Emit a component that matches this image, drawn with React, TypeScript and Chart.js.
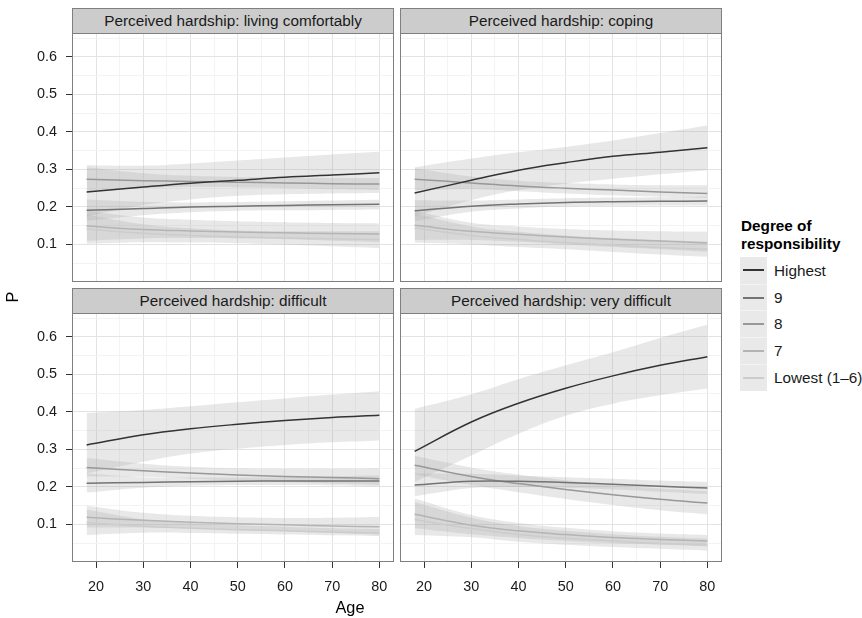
import React, { useEffect, useRef } from "react";
import { Chart, registerables } from "chart.js";

Chart.register(...registerables);

// ---------- data ----------
const AGES = [18, 30, 40, 50, 60, 70, 80];
const LEVELS = ["Highest", "9", "8", "7", "Lowest (1–6)"];
const LINE_COLORS = ["#333333", "#737373", "#989898", "#b4b4b4", "#cccccc"];
const X_TICKS = [20, 25, 30, 35, 40, 45, 50, 55, 60, 65, 70, 75, 80];
const Y_TICKS = [0.05, 0.1, 0.15, 0.2, 0.25, 0.3, 0.35, 0.4, 0.45, 0.5, 0.55, 0.6, 0.65];
const PANEL_TITLES = [
  "Perceived hardship: living comfortably",
  "Perceived hardship: coping",
  "Perceived hardship: difficult",
  "Perceived hardship: very difficult",
];

// rows follow LEVELS: Highest, 9, 8, 7, Lowest
const COMF_P = [
  [0.240, 0.253, 0.263, 0.271, 0.279, 0.285, 0.291],
  [0.191, 0.196, 0.200, 0.202, 0.204, 0.206, 0.207],
  [0.274, 0.270, 0.268, 0.266, 0.264, 0.262, 0.261],
  [0.149, 0.140, 0.136, 0.133, 0.131, 0.129, 0.128],
  [0.141, 0.130, 0.124, 0.120, 0.117, 0.115, 0.113],
];
const COMF_LO = [
  [0.175, 0.205, 0.220, 0.230, 0.234, 0.236, 0.237],
  [0.163, 0.178, 0.186, 0.190, 0.191, 0.192, 0.193],
  [0.242, 0.250, 0.253, 0.252, 0.250, 0.247, 0.245],
  [0.110, 0.116, 0.117, 0.116, 0.114, 0.110, 0.106],
  [0.102, 0.106, 0.105, 0.103, 0.099, 0.095, 0.090],
];
const COMF_HI = [
  [0.311, 0.310, 0.316, 0.324, 0.332, 0.340, 0.347],
  [0.220, 0.214, 0.212, 0.213, 0.215, 0.217, 0.219],
  [0.306, 0.290, 0.283, 0.280, 0.278, 0.277, 0.277],
  [0.190, 0.172, 0.166, 0.162, 0.159, 0.157, 0.156],
  [0.180, 0.154, 0.143, 0.137, 0.135, 0.135, 0.135],
];

const COPE_P = [
  [0.237, 0.271, 0.298, 0.318, 0.335, 0.346, 0.358],
  [0.190, 0.202, 0.208, 0.212, 0.214, 0.215, 0.216],
  [0.274, 0.264, 0.256, 0.250, 0.245, 0.240, 0.236],
  [0.151, 0.135, 0.127, 0.120, 0.114, 0.109, 0.104],
  [0.144, 0.124, 0.113, 0.105, 0.098, 0.092, 0.087],
];
const COPE_LO = [
  [0.175, 0.218, 0.245, 0.262, 0.275, 0.287, 0.298],
  [0.162, 0.187, 0.196, 0.201, 0.203, 0.204, 0.204],
  [0.245, 0.247, 0.242, 0.236, 0.231, 0.227, 0.224],
  [0.112, 0.112, 0.107, 0.100, 0.093, 0.087, 0.080],
  [0.105, 0.100, 0.093, 0.087, 0.080, 0.073, 0.067],
];
const COPE_HI = [
  [0.306, 0.329, 0.346, 0.360, 0.377, 0.397, 0.417],
  [0.218, 0.217, 0.220, 0.223, 0.225, 0.226, 0.228],
  [0.303, 0.281, 0.270, 0.264, 0.260, 0.258, 0.258],
  [0.190, 0.158, 0.148, 0.141, 0.137, 0.135, 0.134],
  [0.183, 0.148, 0.134, 0.124, 0.117, 0.112, 0.108],
];

const DIFF_P = [
  [0.312, 0.339, 0.355, 0.367, 0.377, 0.385, 0.391],
  [0.210, 0.212, 0.214, 0.215, 0.216, 0.216, 0.216],
  [0.252, 0.243, 0.237, 0.232, 0.228, 0.225, 0.222],
  [0.119, 0.111, 0.106, 0.102, 0.099, 0.096, 0.094],
  [0.105, 0.095, 0.090, 0.086, 0.083, 0.080, 0.078],
];
const DIFF_LO = [
  [0.236, 0.267, 0.289, 0.302, 0.312, 0.319, 0.324],
  [0.185, 0.198, 0.203, 0.205, 0.205, 0.204, 0.201],
  [0.228, 0.227, 0.222, 0.217, 0.213, 0.209, 0.205],
  [0.092, 0.092, 0.090, 0.086, 0.082, 0.077, 0.072],
  [0.072, 0.078, 0.077, 0.075, 0.073, 0.071, 0.069],
];
const DIFF_HI = [
  [0.397, 0.405, 0.415, 0.426, 0.436, 0.446, 0.455],
  [0.236, 0.226, 0.225, 0.225, 0.226, 0.228, 0.231],
  [0.277, 0.262, 0.254, 0.250, 0.249, 0.249, 0.250],
  [0.150, 0.131, 0.123, 0.119, 0.117, 0.118, 0.120],
  [0.140, 0.114, 0.104, 0.098, 0.094, 0.090, 0.088],
];

const VDIF_P = [
  [0.295, 0.373, 0.423, 0.463, 0.496, 0.524, 0.547],
  [0.205, 0.215, 0.215, 0.212, 0.207, 0.202, 0.197],
  [0.258, 0.228, 0.209, 0.193, 0.179, 0.167, 0.157],
  [0.127, 0.098, 0.083, 0.073, 0.065, 0.060, 0.056],
  [0.113, 0.089, 0.073, 0.063, 0.056, 0.049, 0.045],
];
const VDIF_LO = [
  [0.213, 0.284, 0.342, 0.390, 0.422, 0.444, 0.462],
  [0.175, 0.197, 0.200, 0.198, 0.193, 0.187, 0.181],
  [0.233, 0.205, 0.186, 0.168, 0.152, 0.138, 0.127],
  [0.090, 0.074, 0.064, 0.056, 0.050, 0.046, 0.042],
  [0.072, 0.066, 0.054, 0.046, 0.040, 0.035, 0.030],
];
const VDIF_HI = [
  [0.408, 0.447, 0.487, 0.524, 0.559, 0.597, 0.632],
  [0.236, 0.235, 0.230, 0.226, 0.222, 0.217, 0.213],
  [0.283, 0.252, 0.233, 0.218, 0.205, 0.196, 0.189],
  [0.169, 0.125, 0.104, 0.091, 0.082, 0.076, 0.072],
  [0.160, 0.118, 0.096, 0.083, 0.074, 0.067, 0.062],
];

// ---------- styling ----------
const FONT = "'Liberation Sans', Arial, Helvetica, sans-serif";
const RIBBON = "rgba(170,170,170,0.27)";
const GRID_MAJOR = "#e3e3e3";
const GRID_MINOR = "#f3f3f3";
const BORDER = "#7f7f7f";
const X_MIN = 14.9;
const X_MAX = 83.1;
const Y_MIN = 0;
const Y_MAX = 0.6635;
const TENSION = 0.4;

const isMajorY = (v: number) => Math.abs(v * 10 - Math.round(v * 10)) < 1e-6;
const isMajorX = (v: number) => Math.abs(v % 10) < 1e-6;

const borderPlugin = {
  id: "panelBorder",
  afterDraw(chart: any) {
    const { ctx, chartArea: a } = chart;
    ctx.save();
    ctx.strokeStyle = BORDER;
    ctx.lineWidth = 1;
    ctx.strokeRect(a.left + 0.5, a.top + 0.5, a.right - a.left - 1, a.bottom - a.top - 1);
    ctx.restore();
  },
};

type PanelProps = {
  p: number[][];
  lo: number[][];
  hi: number[][];
  left: number;
  top: number;
  width: number;
  height: number;
  showX: boolean;
  showY: boolean;
};

function Panel({ p, lo, hi, left, top, width, height, showX, showY }: PanelProps) {
  const ref = useRef<HTMLCanvasElement | null>(null);
  useEffect(() => {
    if (!ref.current) return;
    const datasets: any[] = [];
    LEVELS.forEach((lvl, i) => {
      const loIdx = datasets.length;
      datasets.push({
        label: lvl + " lower",
        data: AGES.map((a, j) => ({ x: a, y: lo[i][j] })),
        borderWidth: 0,
        borderColor: "rgba(0,0,0,0)",
        pointRadius: 0,
        fill: false,
        order: 3,
        tension: TENSION,
      });
      datasets.push({
        label: lvl + " upper",
        data: AGES.map((a, j) => ({ x: a, y: hi[i][j] })),
        borderWidth: 0,
        borderColor: "rgba(0,0,0,0)",
        backgroundColor: RIBBON,
        pointRadius: 0,
        fill: loIdx,
        order: 2,
        tension: TENSION,
      });
    });
    LEVELS.forEach((lvl, i) => {
      datasets.push({
        label: lvl,
        data: AGES.map((a, j) => ({ x: a, y: p[i][j] })),
        borderColor: LINE_COLORS[i],
        borderWidth: 1.5,
        pointRadius: 0,
        fill: false,
        order: 1,
        tension: TENSION,
      });
    });

    const chart = new Chart(ref.current, {
      type: "line",
      data: { datasets },
      plugins: [borderPlugin],
      options: {
        responsive: false,
        animation: false,
        events: [],
        layout: { padding: 0 },
        plugins: {
          legend: { display: false },
          tooltip: { enabled: false },
          title: { display: false },
        },
        scales: {
          x: {
            type: "linear",
            min: X_MIN,
            max: X_MAX,
            afterBuildTicks: (s: any) => {
              s.ticks = X_TICKS.map((v) => ({ value: v }));
            },
            afterFit: (s: any) => {
              s.height = showX ? 40 : 0;
              s.paddingLeft = 0;
              s.paddingRight = 0;
              s.paddingTop = 0;
              s.paddingBottom = 0;
            },
            ticks: {
              display: showX,
              autoSkip: false,
              maxRotation: 0,
              padding: 10,
              color: "#1a1a1a",
              font: { family: FONT, size: 14.4 },
              callback: (v: any) => (isMajorX(Number(v)) ? String(v) : ""),
            },
            grid: {
              color: (ctx: any) => (ctx.tick && isMajorX(ctx.tick.value) ? GRID_MAJOR : GRID_MINOR),
              lineWidth: 1,
              drawTicks: showX,
              tickLength: 6,
              tickColor: (ctx: any) => (ctx.tick && isMajorX(ctx.tick.value) ? "#333333" : "rgba(0,0,0,0)"),
            },
            border: { display: false },
          },
          y: {
            type: "linear",
            min: Y_MIN,
            max: Y_MAX,
            afterBuildTicks: (s: any) => {
              s.ticks = Y_TICKS.map((v) => ({ value: v }));
            },
            afterFit: (s: any) => {
              s.width = showY ? 72 : 0;
              s.paddingLeft = 0;
              s.paddingRight = 0;
              s.paddingTop = 0;
              s.paddingBottom = 0;
            },
            ticks: {
              display: showY,
              autoSkip: false,
              padding: 9,
              color: "#1a1a1a",
              font: { family: FONT, size: 14.4 },
              callback: (v: any) => (isMajorY(Number(v)) ? Number(v).toFixed(1) : ""),
            },
            grid: {
              color: (ctx: any) => (ctx.tick && isMajorY(ctx.tick.value) ? GRID_MAJOR : GRID_MINOR),
              lineWidth: 1,
              drawTicks: showY,
              tickLength: 6,
              tickColor: (ctx: any) => (ctx.tick && isMajorY(ctx.tick.value) ? "#333333" : "rgba(0,0,0,0)"),
            },
            border: { display: false },
          },
        },
      } as any,
    });
    return () => chart.destroy();
  }, [p, lo, hi, showX, showY]);

  return (
    <canvas
      ref={ref}
      width={width}
      height={height}
      style={{ position: "absolute", left, top, width, height }}
    />
  );
}

function Strip({ text, left, top, width }: { text: string; left: number; top: number; width: number }) {
  return (
    <div
      style={{
        position: "absolute",
        left,
        top,
        width,
        height: 26,
        boxSizing: "border-box",
        border: `1px solid ${BORDER}`,
        background: "#cccccc",
        color: "#1a1a1a",
        fontFamily: FONT,
        fontSize: 15.3,
        lineHeight: "24px",
        textAlign: "center",
        whiteSpace: "nowrap",
      }}
    >
      {text}
    </div>
  );
}

const KEY_TOPS = [257, 284, 310, 337, 364];
const KEY_H = 27;

function Legend() {
  return (
    <div style={{ position: "absolute", left: 0, top: 0 }}>
      <div
        style={{
          position: "absolute",
          left: 741,
          top: 217,
          fontFamily: FONT,
          fontSize: 15.3,
          fontWeight: "bold",
          lineHeight: "18px",
          color: "#000",
          whiteSpace: "nowrap",
        }}
      >
        Degree of
        <br />
        responsibility
      </div>
      {LEVELS.map((lvl, i) => (
        <React.Fragment key={lvl}>
          <div
            style={{
              position: "absolute",
              left: 740,
              top: KEY_TOPS[i],
              width: 27,
              height: KEY_H,
              boxSizing: "border-box",
              background: "#e9e9e9",
              borderTop: i > 0 ? "1px solid #f3f3f3" : "none",
            }}
          >
            <div
              style={{
                position: "absolute",
                left: 3,
                width: 21,
                top: 12,
                height: 2,
                background: LINE_COLORS[i],
              }}
            />
          </div>
          <div
            style={{
              position: "absolute",
              left: 774,
              top: KEY_TOPS[i],
              height: KEY_H,
              lineHeight: KEY_H + "px",
              fontFamily: FONT,
              fontSize: 15.3,
              color: "#1a1a1a",
              whiteSpace: "nowrap",
            }}
          >
            {lvl}
          </div>
        </React.Fragment>
      ))}
    </div>
  );
}

export default function App() {
  return (
    <div
      style={{
        position: "fixed",
        left: 0,
        top: 0,
        width: 862,
        height: 618,
        background: "#ffffff",
        overflow: "hidden",
      }}
    >
      <Panel p={COMF_P} lo={COMF_LO} hi={COMF_HI} left={0} top={33} width={394} height={249} showX={false} showY={true} />
      <Panel p={COPE_P} lo={COPE_LO} hi={COPE_HI} left={400} top={33} width={322} height={249} showX={false} showY={false} />
      <Panel p={DIFF_P} lo={DIFF_LO} hi={DIFF_HI} left={0} top={313} width={394} height={289} showX={true} showY={true} />
      <Panel p={VDIF_P} lo={VDIF_LO} hi={VDIF_HI} left={400} top={313} width={322} height={289} showX={true} showY={false} />

      <Strip text={PANEL_TITLES[0]} left={72} top={8} width={322} />
      <Strip text={PANEL_TITLES[1]} left={400} top={8} width={322} />
      <Strip text={PANEL_TITLES[2]} left={72} top={288} width={322} />
      <Strip text={PANEL_TITLES[3]} left={400} top={288} width={322} />

      <div
        style={{
          position: "absolute",
          left: 310,
          top: 597,
          width: 80,
          textAlign: "center",
          fontFamily: FONT,
          fontSize: 16.3,
          lineHeight: "20px",
          color: "#000",
        }}
      >
        Age
      </div>
      <div
        style={{
          position: "absolute",
          left: -8,
          top: 287,
          width: 40,
          height: 20,
          textAlign: "center",
          fontFamily: FONT,
          fontSize: 16.3,
          lineHeight: "20px",
          color: "#000",
          transform: "rotate(-90deg)",
        }}
      >
        P
      </div>
      <Legend />
    </div>
  );
}
